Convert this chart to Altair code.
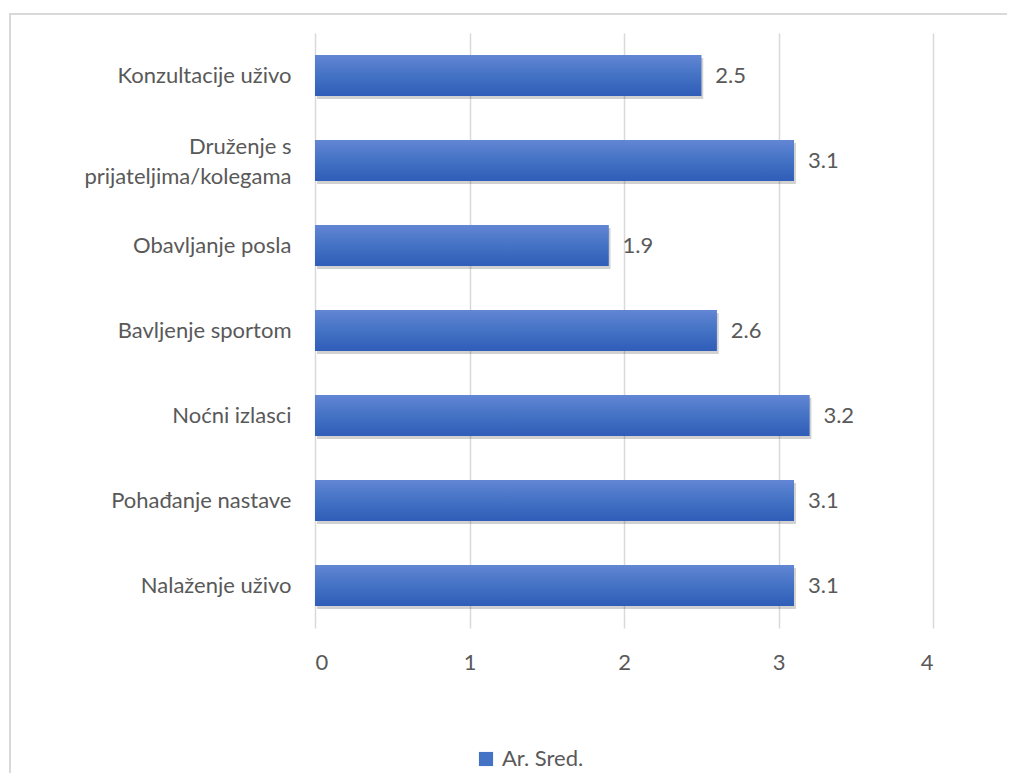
import altair as alt
import pandas as pd

categories = [
    "Konzultacije uživo",
    "Druženje s|prijateljima/kolegama",
    "Obavljanje posla",
    "Bavljenje sportom",
    "Noćni izlasci",
    "Pohađanje nastave",
    "Nalaženje uživo",
]
values = [2.5, 3.1, 1.9, 2.6, 3.2, 3.1, 3.1]
series_name = "Ar. Sred."
x_ticks = [0, 1, 2, 3, 4]

df = pd.DataFrame({"cat": categories, "val": values, "series": [series_name] * len(values)})

FONT = "Lato"
FS = 22
TXT = "#595959"

y_enc = alt.Y(
    "cat:N",
    sort=categories,
    title=None,
    scale=alt.Scale(paddingInner=0.52, paddingOuter=0.26),
    axis=alt.Axis(
        labelExpr="split(datum.value, '|')",
        labelFontSize=FS,
        labelFont=FONT,
        labelColor=TXT,
        labelPadding=24,
        labelLineHeight=30,
        labelLimit=400,
        labelOffset={
            "condition": {"test": "indexof(datum.value, '|') >= 0", "value": -14},
            "value": 0,
        },
        ticks=False,
        domain=False,
        grid=False,
    ),
)
x_enc = alt.X(
    "val:Q",
    title=None,
    scale=alt.Scale(domain=[0, 4], nice=False),
    axis=alt.Axis(
        values=x_ticks,
        labelFontSize=FS,
        labelFont=FONT,
        labelColor=TXT,
        labelPadding=24,
        ticks=False,
        domain=False,
        grid=True,
        gridColor="#d9d9d9",
        gridWidth=1.5,
    ),
)

base = alt.Chart(df)

border = base.mark_rect(
    fillOpacity=0, stroke="#d9d9d9", strokeWidth=2, clip=False
).encode(
    x=alt.value(-305), x2=alt.value(1200), y=alt.value(-19), y2=alt.value(1000)
).transform_filter("datum.cat == 'Nalaženje uživo'")

shadow = base.mark_bar(color="#000000", opacity=0.18, xOffset=2, yOffset=3).encode(
    x=x_enc, y=y_enc
)

legend_bars = base.mark_bar().encode(
    x=x_enc,
    y=y_enc,
    color=alt.Color(
        "series:N",
        scale=alt.Scale(range=["#4472c4"]),
        legend=alt.Legend(
            title=None,
            orient="none",
            legendX=160,
            legendY=715,
            symbolType="square",
            symbolSize=200,
            symbolStrokeWidth=0,
            labelFontSize=FS,
            labelFont=FONT,
            labelColor=TXT,
            labelOffset=5,
        ),
    ),
)

grad = alt.Gradient(
    gradient="linear",
    stops=[
        alt.GradientStop(color="#6286d4", offset=0),
        alt.GradientStop(color="#4472c4", offset=0.5),
        alt.GradientStop(color="#2f5db8", offset=1),
    ],
    x1=0, x2=0, y1=0, y2=1,
)
bars = base.mark_bar(fill=grad).encode(x=x_enc, y=y_enc)

labels = base.mark_text(
    align="left", baseline="middle", dx=14, fontSize=FS, font=FONT, color=TXT
).encode(x=x_enc, y=y_enc, text=alt.Text("val:Q", format=".1f"))

chart = (
    alt.layer(border, shadow, legend_bars, bars, labels)
    .properties(
        width=618,
        height=595,
        autosize=alt.AutoSizeParams(type="none"),
        padding={"left": 307, "top": 25, "right": 74, "bottom": 145},
    )
    .configure_view(stroke=None)
)

chart.save("out.html", embed_options={"renderer": "svg", "actions": False})
